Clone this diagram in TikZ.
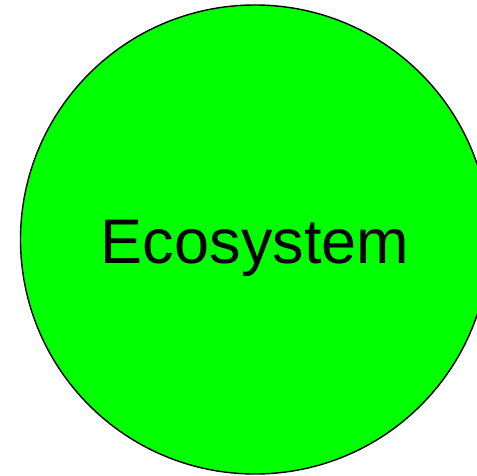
\documentclass[tikz,border=0pt]{standalone}
\usepackage{fontspec}
\setmainfont{Liberation Sans}
\begin{document}
\begin{tikzpicture}[x=1pt,y=1pt,
  eco/.style={circle,draw=black,line width=1.4pt,fill={rgb,255:red,0;green,255;blue,0},minimum size=469pt,inner sep=0pt},
  ecolabel/.style={font=\fontsize{63}{76}\selectfont,anchor=base,inner sep=0pt}]
\useasboundingbox (0,0) rectangle (477,-476);
\clip (0,0) rectangle (477,-476);
\node[eco] (circ) at (255,-239.5) {};
\node[ecolabel] (lbl) at (255,-263.3) {Ecosystem};
\end{tikzpicture}
\end{document}
